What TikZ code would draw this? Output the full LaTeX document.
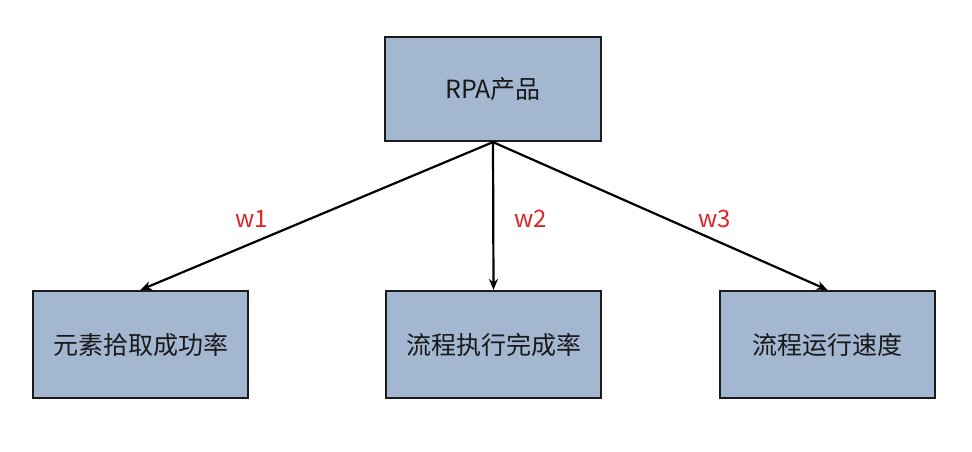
\documentclass[tikz,border=0pt]{standalone}
\usepackage{fontspec}
\setmainfont{Noto Sans CJK SC}
\usetikzlibrary{arrows.meta}
\definecolor{boxfill}{HTML}{A3B7D1}
\definecolor{boxline}{HTML}{1C1C1C}
\definecolor{wred}{HTML}{E02424}
\tikzset{
  box/.style={draw=boxline, line width=2.2pt, fill=boxfill, inner sep=0pt, font=\fontsize{25}{30}\selectfont, text=black!90},
  conn/.style={draw=black, line width=2.2pt, -{Stealth[length=11pt,width=9pt]}},
  wlab/.style={text=wred, font=\fontsize{24}{28}\selectfont}
}
\begin{document}
\begin{tikzpicture}[x=1pt,y=-1pt]
\useasboundingbox (0,0) rectangle (972,451);
\node[box, minimum width=216pt, minimum height=104pt] (top) at (493,89) {RPA产品};
\node[box, minimum width=215pt, minimum height=107pt] (left) at (140.5,344.5) {元素拾取成功率};
\node[box, minimum width=215pt, minimum height=107pt] (mid) at (493.5,344.5) {流程执行完成率};
\node[box, minimum width=215pt, minimum height=107pt] (right) at (827.5,344.5) {流程运行速度};
\draw[conn] (top.south) -- (left.north);
\draw[conn] (top.south) -- (mid.north);
\draw[conn] (top.south) -- (right.north);
\node[wlab] (w1) at (252,219) {w1};
\node[wlab] (w2) at (531,219) {w2};
\node[wlab] (w3) at (715,219) {w3};
\end{tikzpicture}
\end{document}
